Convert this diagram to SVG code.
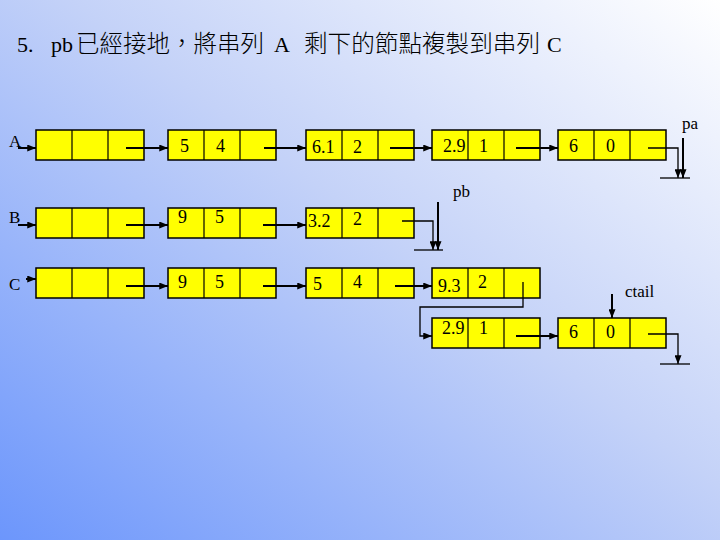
<svg xmlns="http://www.w3.org/2000/svg" width="720" height="540" viewBox="0 0 720 540">
<defs>
<linearGradient id="bg" x1="0" y1="1" x2="1" y2="0">
<stop offset="0" stop-color="#6c96fc"/>
<stop offset="0.55" stop-color="#c4d2f8"/>
<stop offset="1" stop-color="#ffffff"/>
</linearGradient>
<marker id="ah" viewBox="0 0 10 8" refX="10" refY="4" markerWidth="9" markerHeight="7" markerUnits="userSpaceOnUse" orient="auto">
<path d="M0,0 L10,4 L0,8 z" fill="#000"/>
</marker>
<g id="node">
<rect x="0" y="0" width="108" height="30" fill="#ffff00" stroke="#000" stroke-width="1.5"/>
<line x1="36" y1="0" x2="36" y2="30" stroke="#000" stroke-width="1.2"/>
<line x1="72" y1="0" x2="72" y2="30" stroke="#000" stroke-width="1.2"/>
</g>
</defs>
<style>
.t{font-family:"Liberation Serif","Noto Sans CJK TC",serif;font-size:18px;fill:#000}
.lb{font-family:"Liberation Serif",serif;font-size:17px;fill:#000}
.title{font-family:"Liberation Serif","Noto Sans CJK TC",serif;font-size:22px;fill:#000}
.cjk{font-size:23.5px;font-weight:300}
.arr{stroke:#000;stroke-width:2;fill:none;marker-end:url(#ah)}
.thin{stroke:#000;stroke-width:1.3;fill:none}
.thinA{stroke:#000;stroke-width:1.3;fill:none;marker-end:url(#ah)}
</style>
<rect x="0" y="0" width="720" height="540" fill="url(#bg)"/>
<text class="title" y="52"><tspan x="17">5.</tspan><tspan x="51">pb</tspan><tspan class="cjk" x="76" textLength="188" lengthAdjust="spacingAndGlyphs">已經接地，將串列</tspan><tspan x="274">A</tspan><tspan class="cjk" x="304" textLength="236" lengthAdjust="spacingAndGlyphs">剩下的節點複製到串列</tspan><tspan x="547">C</tspan></text>

<g id="labels">
<text class="lb" x="9" y="147">A</text>
<text class="lb" x="9" y="223">B</text>
<text class="lb" x="9" y="290">C</text>
<text class="lb" x="682" y="129">pa</text>
<text class="lb" x="453" y="197">pb</text>
<text class="lb" x="625" y="297">ctail</text>
</g>

<g id="nodeA1"><use href="#node" x="36" y="130"/></g>
<g id="nodeA2"><use href="#node" x="168" y="130"/><text class="t" x="180" y="152">5</text><text class="t" x="216" y="152">4</text></g>
<g id="nodeA3"><use href="#node" x="306" y="130"/><text class="t" x="312" y="153">6.1</text><text class="t" x="353" y="153">2</text></g>
<g id="nodeA4"><use href="#node" x="432" y="130"/><text class="t" x="443" y="152">2.9</text><text class="t" x="479" y="152">1</text></g>
<g id="nodeA5"><use href="#node" x="558" y="130"/><text class="t" x="569" y="152">6</text><text class="t" x="606" y="152">0</text></g>

<g id="nodeB1"><use href="#node" x="36" y="208"/></g>
<g id="nodeB2"><use href="#node" x="168" y="208"/><text class="t" x="178" y="223">9</text><text class="t" x="215" y="223">5</text></g>
<g id="nodeB3"><use href="#node" x="306" y="208"/><text class="t" x="308" y="227">3.2</text><text class="t" x="353" y="225">2</text></g>

<g id="nodeC1"><use href="#node" x="36" y="268"/></g>
<g id="nodeC2"><use href="#node" x="168" y="268"/><text class="t" x="178" y="288">9</text><text class="t" x="215" y="288">5</text></g>
<g id="nodeC3"><use href="#node" x="306" y="268"/><text class="t" x="313" y="290">5</text><text class="t" x="353" y="288">4</text></g>
<g id="nodeC4"><use href="#node" x="432" y="268"/><text class="t" x="438" y="292">9.3</text><text class="t" x="478" y="288">2</text></g>

<g id="nodeD1"><use href="#node" x="432" y="318"/><text class="t" x="442" y="334">2.9</text><text class="t" x="479" y="334">1</text></g>
<g id="nodeD2"><use href="#node" x="558" y="318"/><text class="t" x="569" y="338">6</text><text class="t" x="606" y="338">0</text></g>

<g id="connectors">
<line class="arr" x1="18" y1="148" x2="36" y2="148"/>
<line class="arr" x1="126" y1="148" x2="168" y2="148"/>
<line class="arr" x1="264" y1="148" x2="306" y2="148"/>
<line class="arr" x1="390" y1="148" x2="432" y2="148"/>
<line class="arr" x1="516" y1="148" x2="558" y2="148"/>
<polyline class="thinA" points="648,148 678,148 678,178"/>
<line class="arr" x1="683" y1="138" x2="683" y2="178"/>
<line class="thin" x1="660" y1="178" x2="690" y2="178"/>

<line class="arr" x1="18" y1="225" x2="36" y2="225"/>
<line class="arr" x1="126" y1="225" x2="168" y2="225"/>
<line class="arr" x1="263" y1="225" x2="306" y2="225"/>
<polyline class="thinA" points="402,221 433,221 433,250"/>
<line class="arr" x1="438" y1="202" x2="438" y2="250"/>
<line class="thin" x1="414" y1="250" x2="443" y2="250"/>

<line class="arr" x1="26" y1="279" x2="36" y2="279"/>
<line class="arr" x1="126" y1="286" x2="168" y2="286"/>
<line class="arr" x1="263" y1="286" x2="306" y2="286"/>
<line class="arr" x1="395" y1="286" x2="432" y2="286"/>
<polyline class="thinA" points="523,282 523,307 420,307 420,336 432,336"/>

<line class="arr" x1="516" y1="336" x2="558" y2="336"/>
<line class="arr" x1="612" y1="294" x2="612" y2="318"/>
<polyline class="thinA" points="648,334 678,334 678,364"/>
<line class="thin" x1="660" y1="364" x2="690" y2="364"/>
</g>
</svg>
